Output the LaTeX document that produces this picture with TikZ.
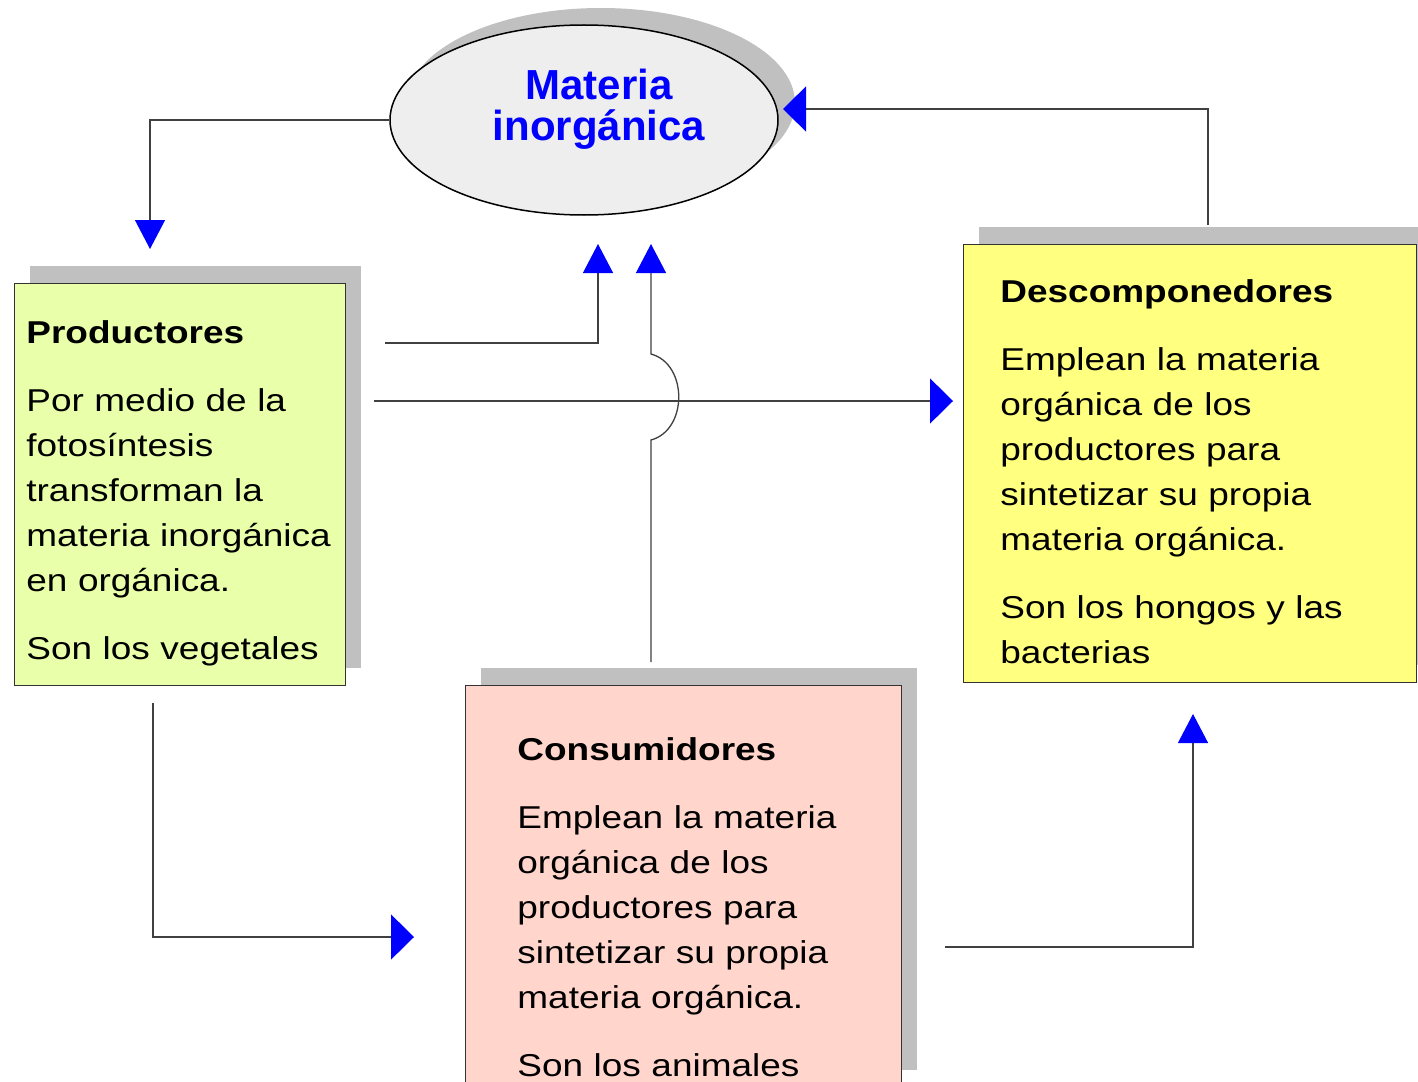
\documentclass[tikz,border=0pt]{standalone}
\usepackage{fontspec}
\setmainfont{Liberation Sans}
\newfontfamily\boxfont[FakeStretch=1.17]{Liberation Sans}
\usepackage{tikz}
\usetikzlibrary{arrows.meta,calc,positioning,shadows,shapes.geometric}
\definecolor{prodfill}{RGB}{234,255,170}
\definecolor{descfill}{RGB}{255,255,128}
\definecolor{consfill}{RGB}{255,213,204}
\definecolor{matfill}{RGB}{238,238,238}
\definecolor{shadowgray}{RGB}{192,192,192}
\tikzstyle{cyclebox}=[
  anchor=north west,
  draw=black!80,
  inner sep=0pt,
  line width=.5pt,
  outer sep=0pt,
  rectangle,
  drop shadow={shadow xshift=8pt, shadow yshift=8.5pt, opacity=1, fill=shadowgray},
]
\tikzstyle{boxtext}=[
  align=left,
  anchor=base west,
  font={\boxfont\fontsize{15.8}{22.5}\selectfont},
  inner sep=0pt,
  text width=210pt,
]
\tikzstyle{mattitle}=[
  align=center,
  anchor=base,
  font={\bfseries\fontsize{21}{20.5}\selectfont},
  inner sep=0pt,
  text=blue,
  text width=150pt,
]
\tikzstyle{flow}=[
  draw=black!75,
  line width=.65pt,
]
\tikzset{
  vtip/.style={-{Triangle[width=15pt,length=14.5pt,blue]}},
  htip/.style={-{Triangle[width=22.5pt,length=11.5pt,blue]}},
}

\begin{document}
\begin{tikzpicture}[x=.5pt, y=-.5pt]
  \clip (0,0) rectangle (1418,1081);
  \fill [white] (0,0) rectangle (1418,1081);
  %%
  \node (mat) [ellipse, draw=black, line width=.75pt, fill=matfill,
    minimum width=194pt, minimum height=95pt,
    drop shadow={shadow xshift=8.5pt, shadow yshift=8.5pt, opacity=1, fill=shadowgray}]
    at (584,120) {};
  \node (mattext) [mattitle] at (599,100) {Materia\\inorgánica};
  %%
  \node (prod) [cyclebox, fill=prodfill, minimum width=165.5pt, minimum height=201pt] at (14,283) {};
  \node (prodtext) [boxtext] at (26,343) {\textbf{Productores}\\[11.5pt]
    Por medio de la\\fotosíntesis\\transforman la\\materia inorgánica\\en orgánica.\\[11.5pt]
    Son los vegetales};
  %%
  \node (desc) [cyclebox, fill=descfill, minimum width=226.5pt, minimum height=219pt] at (963,244) {};
  \node (desctext) [boxtext] at (1000,302) {\textbf{Descomponedores}\\[11.5pt]
    Emplean la materia\\orgánica de los\\productores para\\sintetizar su propia\\materia orgánica.\\[11.5pt]
    Son los hongos y las\\bacterias};
  %%
  \node (cons) [cyclebox, fill=consfill, minimum width=218pt, minimum height=201pt] at (465,685) {};
  \node (constext) [boxtext] at (517,760) {\textbf{Consumidores}\\[11.5pt]
    Emplean la materia\\orgánica de los\\productores para\\sintetizar su propia\\materia orgánica.\\[11.5pt]
    Son los animales};
  %%
  \coordinate (prodin) at (150,249);
  \coordinate (produp) at (385,343);
  \coordinate (matin1) at (598,244);
  \coordinate (consup) at (651,662);
  \coordinate (bumplo) at (651,440);
  \coordinate (bumphi) at (651,354);
  \coordinate (matin2) at (651,244);
  \coordinate (prodright) at (374,401);
  \coordinate (descin) at (953,401);
  \coordinate (proddown) at (153,703);
  \coordinate (consin) at (414,937);
  \coordinate (consright) at (945,947);
  \coordinate (descbelow) at (1193,714);
  \coordinate (descup) at (1208,225);
  \coordinate (matin3) at (783,109);
  %%
  \draw [flow, vtip] (mat.west) -| (prodin);
  \draw [flow, vtip] (produp) -| (matin1);
  \draw [flow, vtip] (consup) -- (bumplo)
    .. controls ($(bumplo)+(37,-10)$) and ($(bumphi)+(37,10)$) .. (bumphi)
    -- (matin2);
  \draw [flow, htip] (prodright) -- (descin);
  \draw [flow, htip] (proddown) |- (consin);
  \draw [flow, vtip] (consright) -| (descbelow);
  \draw [flow, htip] (descup) |- (matin3);
\end{tikzpicture}
\end{document}
